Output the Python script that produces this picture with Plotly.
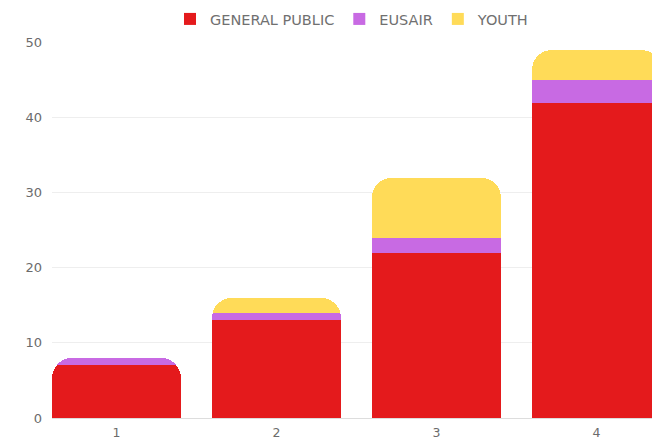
import plotly.graph_objects as go

categories = ["1", "2", "3", "4"]
general_public = [7, 13, 22, 42]
eusair = [1, 1, 2, 3]
youth = [None, 2, 8, 4]

series = [
    ("GENERAL PUBLIC", general_public, "#e41a1c"),
    ("EUSAIR", eusair, "#c86ae3"),
    ("YOUTH", youth, "#ffdb58"),
]

fig = go.Figure()
for name, vals, color in series:
    fig.add_trace(go.Bar(
        x=categories, y=vals, name=name, showlegend=False,
        marker=dict(color=color, line=dict(width=0)),
        width=0.806,
    ))
# legend entries with square swatches
for name, vals, color in series:
    fig.add_trace(go.Scatter(
        x=[None], y=[None], mode="markers", name=name,
        marker=dict(symbol="square", size=16, color=color),
    ))

fig.update_layout(
    barmode="stack",
    barcornerradius=20,
    width=652, height=440,
    margin=dict(l=52, r=0, t=41, b=22),
    paper_bgcolor="white", plot_bgcolor="white",
    font=dict(family="DejaVu Sans, sans-serif", size=12, color="#6b6b6b"),
    showlegend=True,
    legend=dict(orientation="h", x=0.5, xanchor="center",
                yref="container", y=1 - 19 / 440, yanchor="middle",
                font=dict(size=14.5, color="#707070"), itemsizing="constant",
                traceorder="normal", itemwidth=30),
    xaxis=dict(range=[-0.403, 3.347], showgrid=False, showline=True,
               linecolor="#ddd", linewidth=1, ticks="", ticklabelstandoff=3,
               tickfont=dict(size=12.5, color="#6b6b6b")),
    yaxis=dict(range=[0, 50], dtick=10, gridcolor="#eeeeee", gridwidth=1,
               zeroline=False, showline=False, ticks="", ticklabelstandoff=9,
               tickfont=dict(size=13, color="#6b6b6b")),
)

fig.write_html(
    "out.html",
    config={"displayModeBar": False},
    post_script="document.body.style.margin='0';document.body.style.overflow='hidden';",
)
